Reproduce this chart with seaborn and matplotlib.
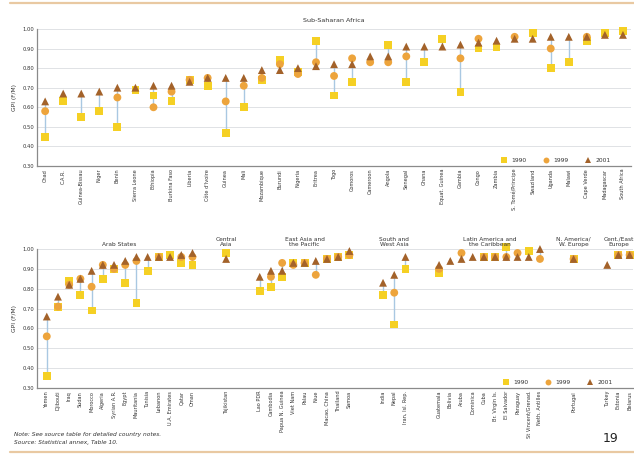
import numpy as np
import pandas as pd
import matplotlib
matplotlib.use("Agg")
import matplotlib.pyplot as plt
import seaborn as sns

# ---------------- data ----------------
ssa_countries = ["Chad", "C.A.R.", "Guinea-Bissau", "Niger", "Benin", "Sierra Leone", "Ethiopia",
                 "Burkina Faso", "Liberia", "Côte d'Ivoire", "Guinea", "Mali", "Mozambique", "Burundi",
                 "Nigeria", "Eritrea", "Togo", "Comoros", "Cameroon", "Angola", "Senegal", "Ghana",
                 "Equat. Guinea", "Gambia", "Congo", "Zambia", "S. Tomé/Principe", "Swaziland",
                 "Uganda", "Malawi", "Cape Verde", "Madagascar", "South Africa"]
nan = np.nan
ssa_1990 = [0.45, 0.63, 0.55, 0.58, 0.50, 0.69, 0.66, 0.63, 0.74, 0.71, 0.47, 0.60, 0.74, 0.84,
            0.78, 0.94, 0.66, 0.73, nan, 0.92, 0.73, 0.83, 0.95, 0.68, 0.90, 0.91, nan, 0.98,
            0.80, 0.83, 0.94, 0.98, 0.99]
ssa_1999 = [0.58, nan, nan, nan, 0.65, nan, 0.60, 0.68, 0.74, 0.75, 0.63, 0.71, 0.75, 0.82,
            0.77, 0.83, 0.76, 0.85, 0.83, 0.83, 0.86, nan, nan, 0.85, 0.95, nan, 0.96, nan,
            0.90, nan, 0.96, nan, nan]
ssa_2001 = [0.63, 0.67, 0.67, 0.68, 0.70, 0.70, 0.71, 0.71, 0.73, 0.75, 0.75, 0.75, 0.79, 0.79,
            0.80, 0.81, 0.82, 0.82, 0.86, 0.86, 0.91, 0.91, 0.91, 0.92, 0.93, 0.94, 0.95, 0.95,
            0.96, 0.96, 0.96, 0.97, 0.97]

group_names = ["Arab States", "Central\nAsia", "East Asia and\nthe Pacific", "South and\nWest Asia",
               "Latin America and\nthe Caribbean", "N. America/\nW. Europe", "Cent./East\nEurope"]
group_countries = [
    ["Yemen", "Djibouti", "Iraq", "Sudan", "Morocco", "Algeria", "Syrian A.R.", "Egypt",
     "Mauritania", "Tunisia", "Lebanon", "U.A. Emirates", "Qatar", "Oman"],
    ["Tajikistan"],
    ["Lao PDR", "Cambodia", "Papua N. Guinea", "Viet Nam", "Palau", "Niue", "Macao, China",
     "Thailand", "Samoa"],
    ["India", "Nepal", "Iran, Isl. Rep."],
    ["Guatemala", "Bolivia", "Aruba", "Dominica", "Cuba", "Br. Virgin Is.", "El Salvador",
     "Paraguay", "St Vincent/Grenad.", "Neth. Antilles"],
    ["Portugal"],
    ["Turkey", "Estonia", "Belarus"],
]
grp_1990 = [
    [0.36, 0.71, 0.84, 0.77, 0.69, 0.85, 0.90, 0.83, 0.73, 0.89, 0.96, 0.97, 0.93, 0.92],
    [0.98],
    [0.79, 0.81, 0.86, 0.93, 0.93, nan, 0.95, 0.96, 0.97],
    [0.77, 0.62, 0.90],
    [0.88, nan, nan, nan, 0.96, 0.96, 1.01, nan, 0.99, nan],
    [0.95],
    [nan, 0.97, 0.97],
]
grp_1999 = [
    [0.56, 0.71, 0.82, 0.85, 0.81, 0.92, 0.90, 0.92, 0.94, nan, 0.96, nan, 0.96, 0.96],
    [nan],
    [nan, 0.86, 0.93, 0.92, 0.93, 0.87, 0.95, 0.96, 0.97],
    [nan, 0.78, nan],
    [0.90, nan, 0.98, nan, 0.96, 0.96, 0.96, 0.98, nan, 0.95],
    [0.95],
    [nan, 0.97, 0.97],
]
grp_2001 = [
    [0.66, 0.76, 0.82, 0.85, 0.89, 0.92, 0.92, 0.94, 0.96, 0.96, 0.96, 0.96, 0.97, 0.98],
    [0.95],
    [0.86, 0.89, 0.89, 0.93, 0.93, 0.94, 0.95, 0.96, 0.99],
    [0.83, 0.87, 0.96],
    [0.92, 0.94, 0.95, 0.96, 0.96, 0.96, 0.96, 0.96, 0.96, 1.00],
    [0.95],
    [0.92, 0.97, 0.97],
]
years = ["1990", "1999", "2001"]
yticks = [0.30, 0.40, 0.50, 0.60, 0.70, 0.80, 0.90, 1.00]

# ---------------- style ----------------
sns.set_theme(style="white")
plt.rcParams["font.family"] = ["Liberation Sans Narrow", "DejaVu Sans"]

palette = {"1990": "#F5D024", "1999": "#EDA43C", "2001": "#A3622A"}
markers = {"1990": "s", "1999": "o", "2001": "^"}
line_col = "#A9C8E2"
grid_col = "#DADDE0"
spine_col = "#8A8A8A"
text_col = "#333333"


def long_frame(xs, labels, v90, v99, v01):
    rows = []
    for x, lab, a, b, c in zip(xs, labels, v90, v99, v01):
        for yr, v in zip(years, (a, b, c)):
            rows.append({"x": x, "country": lab, "year": yr, "gpi": v})
    return pd.DataFrame(rows)


def draw_panel(ax, df, xs, labels, xlim, legend_anchor):
    # connecting ranges
    rng = df.groupby("x")["gpi"].agg(["min", "max"]).reset_index()
    ax.vlines(rng["x"], rng["min"], rng["max"], color=line_col, lw=1.0, zorder=1)
    sns.scatterplot(data=df.dropna(), x="x", y="gpi", hue="year", style="year",
                    hue_order=years, style_order=years, palette=palette, markers=markers,
                    s=32, linewidth=0, ax=ax, zorder=3, clip_on=False)
    ax.set_ylim(0.30, 1.00)
    ax.set_xlim(*xlim)
    ax.set_yticks(yticks)
    ax.set_yticklabels([f"{t:.2f}" for t in yticks], fontsize=3.8, color=text_col)
    ax.set_xticks(xs)
    ax.set_xticklabels(labels, rotation=90, fontsize=3.6, color=text_col)
    ax.tick_params(axis="both", length=0, pad=2)
    for yv in yticks[1:]:
        ax.axhline(yv, color=grid_col, lw=0.6, zorder=0)
    for s in ["top", "right"]:
        ax.spines[s].set_visible(False)
    for s in ["left", "bottom"]:
        ax.spines[s].set_color(spine_col)
        ax.spines[s].set_linewidth(0.9)
    ax.set_xlabel("")
    ax.set_ylabel("GPI (F/M)", fontsize=4.2, color=text_col, labelpad=4)
    leg = ax.legend(loc="lower right", bbox_to_anchor=legend_anchor, ncol=3, frameon=False,
                    fontsize=4.3, markerscale=0.75, handletextpad=0.3, columnspacing=2.2)
    for t in leg.get_texts():
        t.set_color(text_col)


fig = plt.figure(figsize=(6.34, 4.55), dpi=100)

# ---------- top panel: Sub-Saharan Africa ----------
ax1 = fig.add_axes([0.0584, 0.6352, 0.937, 0.3011])
xs1 = list(range(len(ssa_countries)))
df1 = long_frame(xs1, ssa_countries, ssa_1990, ssa_1999, ssa_2001)
draw_panel(ax1, df1, xs1, ssa_countries, (-0.45, 32.45), (0.975, -0.02))
ax1.text(0.5, 1.045, "Sub-Saharan Africa", transform=ax1.transAxes, ha="center", va="bottom",
         fontsize=4.6, color=text_col)

# ---------- bottom panel: other regions ----------
ax2 = fig.add_axes([0.0584, 0.1473, 0.940, 0.3054])
gap = 2
xs2, labels2, v90, v99, v01, centers = [], [], [], [], [], []
pos = 0
for names, a, b, c in zip(group_countries, grp_1990, grp_1999, grp_2001):
    start = pos
    for n in names:
        xs2.append(pos)
        labels2.append(n)
        pos += 1
    centers.append((start + pos - 1) / 2)
    v90 += a
    v99 += b
    v01 += c
    pos += gap
df2 = long_frame(xs2, labels2, v90, v99, v01)
draw_panel(ax2, df2, xs2, labels2, (-0.87, 52.3), (0.975, -0.02))
for name, cx in zip(group_names, centers):
    ax2.text(cx, 1.015, name, ha="center", va="bottom", fontsize=4.2, color=text_col,
             linespacing=1.0, transform=ax2.get_xaxis_transform())

# ---------- page decorations ----------
fig.add_artist(plt.Line2D([0.015, 1.0], [0.993, 0.993], color="#E9C9A2", lw=1.6))
fig.add_artist(plt.Line2D([0.015, 1.0], [0.006, 0.006], color="#E9C9A2", lw=1.6))
fig.text(0.022, 0.042, "Note: See source table for detailed country notes.", fontsize=4.2,
         color=text_col, style="italic")
fig.text(0.022, 0.024, "Source: Statistical annex, Table 10.", fontsize=4.2,
         color=text_col, style="italic")
fig.text(0.975, 0.028, "19", fontsize=9, color="#222222", ha="right")

fig.savefig("out.png", dpi=100, facecolor="white")
